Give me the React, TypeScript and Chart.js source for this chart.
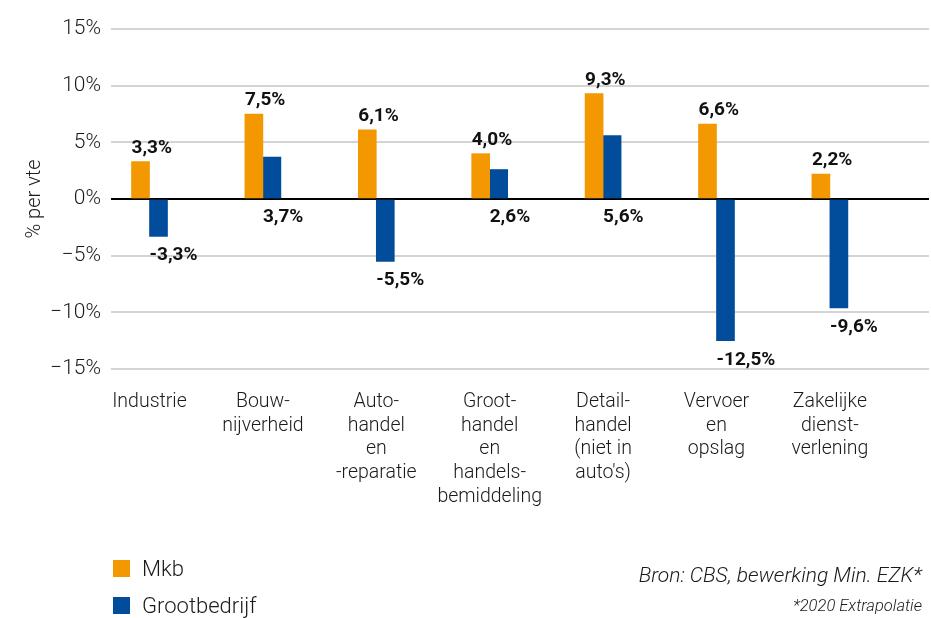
import React, { useEffect, useRef } from "react";
import { Chart, registerables } from "chart.js";

Chart.register(...registerables);

const categories: string[][] = [
  ["Industrie"],
  ["Bouw-", "nijverheid"],
  ["Auto-", "handel", "en", "-reparatie"],
  ["Groot-", "handel", "en", "handels-", "bemiddeling"],
  ["Detail-", "handel", "(niet in", "auto's)"],
  ["Vervoer", "en", "opslag"],
  ["Zakelijke", "dienst-", "verlening"],
];

const mkbValues = [3.3, 7.5, 6.1, 4.0, 9.3, 6.6, 2.2];
const grootValues = [-3.3, 3.7, -5.5, 2.6, 5.6, -12.5, -9.6];

const seriesNames = ["Mkb", "Grootbedrijf"];
const seriesColors = ["#f39800", "#014c9b"];

const yTicks = [15, 10, 5, 0, -5, -10, -15];
const yTitle = "% per vte";
const sourceText = "Bron: CBS, bewerking Min. EZK*";
const noteText = "*2020 Extrapolatie";

const FONT = "Roboto, 'Noto Sans', sans-serif";

const fmt = (v: number) => v.toFixed(1).replace(".", ",") + "%";

const labelPlugin = {
  id: "barValueLabels",
  afterDatasetsDraw(chart: any) {
    const ctx = chart.ctx;
    ctx.save();
    ctx.font = `bold 19px ${FONT}`;
    ctx.fillStyle = "#111";
    ctx.textAlign = "left";
    ctx.textBaseline = "alphabetic";
    chart.data.datasets.forEach((ds: any, di: number) => {
      const meta = chart.getDatasetMeta(di);
      meta.data.forEach((el: any, i: number) => {
        const v = ds.data[i].y;
        const left = el.x - el.width / 2;
        const top = Math.min(el.y, el.base);
        const bottom = Math.max(el.y, el.base);
        const y = di === 0 ? top - 9 : bottom + 24;
        ctx.fillText(fmt(v), left, y);
      });
    });
    ctx.restore();
  },
};

export default function App() {
  const canvasRef = useRef<HTMLCanvasElement | null>(null);

  useEffect(() => {
    if (!canvasRef.current) return;
    const xMin = -0.3395;
    const xMax = 6.874;
    const chart = new Chart(canvasRef.current, {
      type: "bar",
      data: {
        datasets: [
          {
            label: seriesNames[0],
            data: mkbValues.map((v, i) => ({ x: i, y: v })),
            backgroundColor: seriesColors[0],
            barThickness: 18,
          },
          {
            label: seriesNames[1],
            data: grootValues.map((v, i) => ({ x: i, y: v })),
            backgroundColor: seriesColors[1],
            barThickness: 18,
          },
        ],
      },
      plugins: [labelPlugin],
      options: {
        animation: false,
        responsive: false,
        maintainAspectRatio: false,
        layout: { padding: { left: 0, top: 29, right: 2, bottom: 0 } },
        plugins: {
          legend: { display: false },
          tooltip: { enabled: false },
        },
        scales: {
          x: {
            type: "linear",
            offset: false,
            min: xMin,
            max: xMax,
            grid: { display: false, offset: false },
            border: { display: false },
            afterFit: (scale: any) => {
              scale.height = 249;
            },
            afterBuildTicks: (scale: any) => {
              scale.ticks = categories.map((_, i) => ({ value: i }));
            },
            ticks: {
              autoSkip: false,
              maxRotation: 0,
              minRotation: 0,
              padding: 13,
              color: "#1a1a1a",
              font: { family: FONT, size: 19.5, weight: "300", lineHeight: 1.22 },
              callback: (value: any) => categories[value as number] ?? "",
            },
          },
          y: {
            min: -15,
            max: 15,
            afterFit: (scale: any) => {
              scale.width = 111;
            },
            afterBuildTicks: (scale: any) => {
              scale.ticks = yTicks.map((v) => ({ value: v }));
            },
            border: { display: false },
            grid: {
              drawTicks: false,
              color: (c: any) => (c.tick && c.tick.value === 0 ? "#000000" : "#d4d4d4"),
              lineWidth: 2,
            },
            ticks: {
              padding: 10,
              color: "#1a1a1a",
              font: { family: FONT, size: 21, weight: "300" },
              callback: (v: any) => `${v < 0 ? "\u2212" + Math.abs(v) : v}%`,
            },
            title: {
              display: true,
              text: yTitle,
              color: "#1a1a1a",
              font: { family: FONT, size: 20, weight: "300", lineHeight: 1.2 },
              padding: { top: 23, bottom: 0 },
            },
          },
        },
      } as any,
    });
    return () => chart.destroy();
  }, []);

  return (
    <div style={{ position: "fixed", left: 0, top: 0, width: 931, height: 618, background: "#fff" }}>
      <canvas ref={canvasRef} width={931} height={618} style={{ position: "absolute", left: 0, top: 0 }} />
      {seriesNames.map((name, i) => (
        <div
          key={name}
          style={{
            position: "absolute",
            left: 113,
            top: 555 + i * 37,
            height: 27,
            display: "flex",
            alignItems: "center",
            fontFamily: FONT,
            fontWeight: 300,
            fontSize: 22,
            color: "#1a1a1a",
            whiteSpace: "nowrap",
          }}
        >
          <span style={{ display: "inline-block", width: 17, height: 17, background: seriesColors[i], marginRight: 12 }} />
          {name}
        </div>
      ))}
      <div
        style={{
          position: "absolute",
          right: 9,
          top: 562,
          fontFamily: FONT,
          fontStyle: "italic",
          fontWeight: 300,
          fontSize: 21,
          lineHeight: "26px",
          color: "#1a1a1a",
          whiteSpace: "nowrap",
          textAlign: "right",
        }}
      >
        {sourceText}
      </div>
      <div
        style={{
          position: "absolute",
          right: 9,
          top: 596,
          fontFamily: FONT,
          fontStyle: "italic",
          fontWeight: 300,
          fontSize: 16.5,
          lineHeight: "20px",
          color: "#1a1a1a",
          whiteSpace: "nowrap",
          textAlign: "right",
        }}
      >
        {noteText}
      </div>
    </div>
  );
}
